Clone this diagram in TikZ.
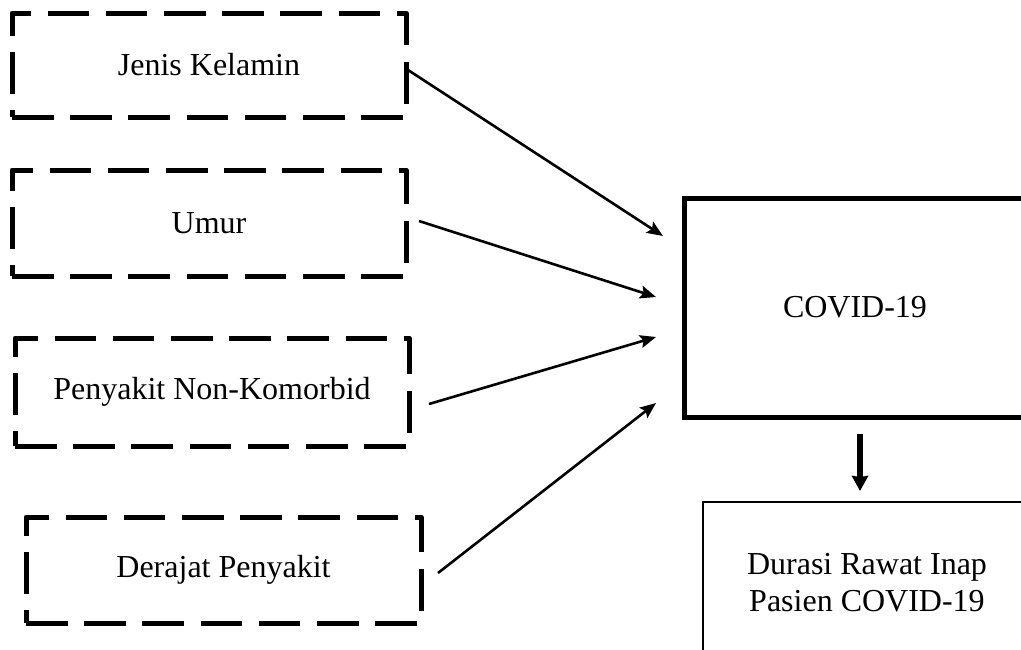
\documentclass[tikz,border=0pt]{standalone}
\usepackage{fontspec}
\setmainfont{Liberation Serif}
\usetikzlibrary{arrows.meta}
\begin{document}
\begin{tikzpicture}[x=0.5pt,y=-0.5pt,
  dbox/.style={draw, line width=2.5pt, dash pattern=on 20.8pt off 8.3pt, line join=round,
    minimum width=197pt, inner sep=0pt, font=\fontsize{16}{19}\selectfont},
  cbox/.style={draw, line width=2.5pt, minimum width=171pt, minimum height=109.5pt,
    inner sep=0pt, font=\fontsize{16}{19}\selectfont},
  obox/.style={draw, line width=1.3pt, minimum width=164pt, minimum height=81pt,
    inner sep=0pt, align=center, font=\fontsize{16}{18.5}\selectfont},
  conn/.style={line width=1.3pt, -{Stealth[length=8pt,width=6.5pt,inset=1.5pt]}},
  bigarrow/.style={line width=3pt, -{Stealth[length=7.5pt,width=8pt,inset=0.5pt]}}]
\useasboundingbox (0,0) rectangle (1021,649);
\begin{scope}
\clip (0,0) rectangle (1021,649);
\node[dbox, minimum height=52pt] (b1) at (209,65) {Jenis Kelamin};
\node[dbox, minimum height=53pt] (b2) at (209,223) {Umur};
\node[dbox, minimum height=54pt] (b3) at (212,392) {Penyakit Non-Komorbid};
\node[dbox, minimum height=53pt, minimum width=197.5pt] (b4) at (223.5,570) {Derajat Penyakit};
\node[cbox] (cv) at (855,307.5) {COVID-19};
\node[obox] (dr) at (867,583) {Durasi Rawat Inap\\Pasien COVID-19};
\end{scope}
\coordinate (s1) at (408,70);
\coordinate (e1) at (663,236);
\coordinate (s2) at (419,221);
\coordinate (e2) at (656,297);
\coordinate (s3) at (429,404);
\coordinate (e3) at (656,337);
\coordinate (s4) at (438,573);
\coordinate (e4) at (656,403);
\coordinate (sd) at (860,434);
\coordinate (ed) at (860,491);
\draw[conn] (s1) -- (e1);
\draw[conn] (s2) -- (e2);
\draw[conn] (s3) -- (e3);
\draw[conn] (s4) -- (e4);
\draw[bigarrow] (sd) -- (ed);
\end{tikzpicture}
\end{document}
